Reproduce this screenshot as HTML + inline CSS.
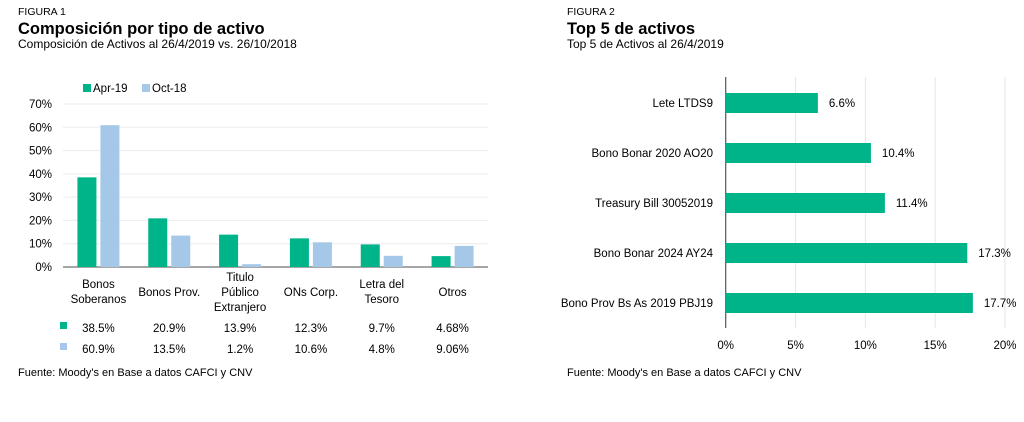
<!DOCTYPE html>
<html><head><meta charset="utf-8"><style>
body{margin:0;background:#fff;width:1024px;height:417px;overflow:hidden;font-family:"Liberation Sans",sans-serif;color:#111}
svg text{font-family:"Liberation Sans",sans-serif}
</style></head><body>
<svg width="1024" height="417">
<g>
<text x="18" y="15" font-size="10.5">FIGURA 1</text>
<text x="18" y="34" font-size="16.5" font-weight="bold">Composición por tipo de activo</text>
<text x="18" y="48" font-size="12">Composición de Activos al 26/4/2019 vs. 26/10/2018</text>
</g>
<g>
<rect x="83" y="84" width="8" height="8" fill="#00b48a"/>
<text x="93" y="92" font-size="11.5">Apr-19</text>
<rect x="142" y="84" width="8" height="8" fill="#a5c8e8"/>
<text x="152" y="92" font-size="11.5">Oct-18</text>
</g>
<g id="c1"></g>
<g>
<text x="567" y="15" font-size="10.5">FIGURA 2</text>
<text x="567" y="34" font-size="16.5" font-weight="bold">Top 5 de activos</text>
<text x="567" y="48" font-size="12">Top 5 de Activos al 26/4/2019</text>
</g>
<g id="c2"></g>
<text x="18" y="376" font-size="11">Fuente: Moody's en Base a datos CAFCI y CNV</text>
<text x="567" y="376" font-size="11">Fuente: Moody's en Base a datos CAFCI y CNV</text>
</svg>
<script>
const categories=[["Bonos","Soberanos"],["Bonos Prov."],["Titulo","Público","Extranjero"],["ONs Corp."],["Letra del","Tesoro"],["Otros"]];
const apr19=[38.5,20.9,13.9,12.3,9.7,4.68];
const oct18=[60.9,13.5,1.2,10.6,4.8,9.06];
const apr19Labels=["38.5%","20.9%","13.9%","12.3%","9.7%","4.68%"];
const oct18Labels=["60.9%","13.5%","1.2%","10.6%","4.8%","9.06%"];
const yTicks=[0,10,20,30,40,50,60,70];
const topNames=["Lete LTDS9","Bono Bonar 2020 AO20","Treasury Bill 30052019","Bono Bonar 2024 AY24","Bono Prov Bs As 2019 PBJ19"];
const topValues=[6.6,10.4,11.4,17.3,17.7];
const xTicks=[0,5,10,15,20];
const NS="http://www.w3.org/2000/svg";
function mk(p,t,a,txt){const e=document.createElementNS(NS,t);for(const k in a)e.setAttribute(k,a[k]);if(txt!=null)e.textContent=txt;p.appendChild(e);return e;}
// chart 1
const c1=document.getElementById('c1');
const x0=63,x1=488,y0=267,yTop=104;
const y=v=>y0-(v/70)*(y0-yTop);
const cw=(x1-x0)/categories.length;
yTicks.forEach(t=>{
 const l=mk(c1,'line',{x1:x0,x2:x1,y1:y(t),y2:y(t),stroke:t?'#ececec':'#888','stroke-width':t?1:1.5});
 
 
 const tx=mk(c1,'text',{x:52,y:y(t)+4,'font-size':11.5,'text-anchor':'end'},t+'%');
 
 
});
categories.forEach((c,i)=>{
 const cx=x0+cw*(i+0.5);
 const b1=mk(c1,'rect',{x:cx-21,y:y(apr19[i]),width:19,height:y0-y(apr19[i]),fill:'#00b48a'});
 
 
 const b2=mk(c1,'rect',{x:cx+2,y:y(oct18[i]),width:19,height:y0-y(oct18[i]),fill:'#a5c8e8'});
 
 
 const n=c.length, base=n===3?281:(n===2?288:296);
 c.forEach((ln,j)=>{const t=mk(c1,'text',{x:cx,y:base+j*15,'font-size':11.5,'text-anchor':'middle'},ln);
  
  });
 const v1=mk(c1,'text',{x:cx,y:332,'font-size':11.5,'text-anchor':'middle'},apr19Labels[i]);
 
 
 const v2=mk(c1,'text',{x:cx,y:353,'font-size':11.5,'text-anchor':'middle'},oct18Labels[i]);
 
 
});
const s1=mk(c1,'rect',{x:60,y:322,width:7,height:7,fill:'#00b48a'});


const s2=mk(c1,'rect',{x:60,y:343,width:7,height:7,fill:'#a5c8e8'});


// chart 2
const c2=document.getElementById('c2');
const ax=725.7,scale=(1005-725.7)/20;
const xx=v=>ax+v*scale;
xTicks.forEach(t=>{
 if(t>0){const g=mk(c2,'line',{x1:xx(t),x2:xx(t),y1:77,y2:328,stroke:'#e6e6e6'});
 
 }
 const tx=mk(c2,'text',{x:xx(t),y:349,'font-size':11.5,'text-anchor':'middle'},t+'%');
 
 
});
const axl=mk(c2,'line',{x1:ax,x2:ax,y1:77,y2:328,stroke:'#555','stroke-width':1.2});


topNames.forEach((n,i)=>{
 const by=93+i*50;
 const r=mk(c2,'rect',{x:ax,y:by,width:xx(topValues[i])-ax,height:20,fill:'#00b48a'});
 
 
 const l=mk(c2,'text',{x:713,y:by+14,'font-size':11.5,'text-anchor':'end'},n);
 
 
 const v=mk(c2,'text',{x:xx(topValues[i])+11,y:by+14,'font-size':11.5},topValues[i].toFixed(1)+'%');
 
 
});
</script>
</body></html>
